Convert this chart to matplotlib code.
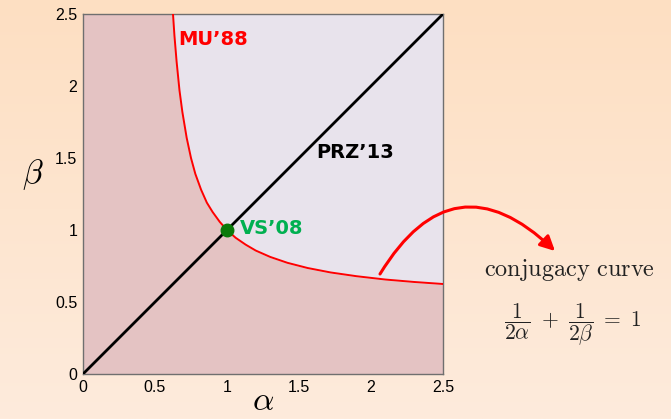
"""Conjugacy curve in the (alpha, beta) plane with the three labelled results."""

import matplotlib
matplotlib.use("Agg")
import matplotlib.pyplot as plt
import numpy as np

plt.rcParams["font.family"] = ["Liberation Sans", "DejaVu Sans"]
plt.rcParams["mathtext.fontset"] = "cm"

# conjugacy curve 1/(2a) + 1/(2b) = 1
curve_alpha = [0.625, 0.635, 0.65, 0.67, 0.69, 0.72, 0.75, 0.78, 0.82, 0.86, 0.9, 0.95,
               1.0, 1.06, 1.13, 1.2, 1.3, 1.42, 1.56, 1.72, 1.9, 2.1, 2.3, 2.5]
curve_beta = [2.5, 2.35, 2.17, 1.97, 1.82, 1.64, 1.5, 1.39, 1.28, 1.19, 1.125, 1.056,
              1.0, 0.946, 0.898, 0.857, 0.813, 0.772, 0.736, 0.705, 0.679, 0.656, 0.639, 0.625]
diag = [0, 2.5]
vs_point = (1.0, 1.0)
ticks = [0, 0.5, 1, 1.5, 2, 2.5]
tick_labels = ["0", "0.5", "1", "1.5", "2", "2.5"]

fig = plt.figure(figsize=(6.71, 4.19), dpi=100)

# peach gradient background
bg = fig.add_axes([0, 0, 1, 1], zorder=-10)
top = np.array([253, 223, 194]) / 255
bot = np.array([254, 235, 220]) / 255
grad = np.linspace(0, 1, 256)[:, None, None] * (bot - top) + top
bg.imshow(np.repeat(grad, 2, axis=1), aspect="auto", extent=(0, 1, 0, 1))
bg.axis("off")

W, H = 671, 419
ax = fig.add_axes([83 / W, (H - 374) / H, 360 / W, 360 / H])
ax.set_xlim(0, 2.5)
ax.set_ylim(0, 2.5)

# regions above / below the curve
ax.fill_between([0, 2.5], 0, 2.5, color="#e4c3c3", zorder=0)
ax.fill_between(curve_alpha, curve_beta, 2.5, color="#e8e3ec", zorder=1)

ax.plot(curve_alpha, curve_beta, color="#ff0000", lw=1.4, zorder=3)
ax.plot(diag, diag, color="black", lw=2.0, zorder=4)
ax.plot(*vs_point, "o", color="#0a7a0a", ms=9, zorder=5)

ax.text(0.66, 2.32, "MU’88", color="#ff0000", fontsize=14, fontweight="bold",
        family="DejaVu Sans", va="center", ha="left")
ax.text(1.62, 1.54, "PRZ’13", color="black", fontsize=14, fontweight="bold",
        family="DejaVu Sans", va="center", ha="left")
ax.text(1.09, 1.01, "VS’08", color="#00b050", fontsize=14, fontweight="bold",
        family="DejaVu Sans", va="center", ha="left")

ax.set_xticks(ticks, tick_labels)
ax.set_yticks(ticks, tick_labels)
ax.tick_params(length=0, labelsize=11.5, pad=4)
for s in ax.spines.values():
    s.set_color("#6f6f6f")
    s.set_linewidth(1.0)

fig.text(263 / W, 1 - 402 / H, r"$\alpha$", fontsize=24, ha="center", va="center")
fig.text(33 / W, 1 - 175 / H, r"$\beta$", fontsize=24, ha="center", va="center")

# curved pointer to the legend text
ax.annotate("", xy=(555, H - 251), xycoords="figure pixels",
            xytext=(380, H - 274), textcoords="figure pixels",
            arrowprops=dict(arrowstyle="-|>", color="#ff0000", lw=2.2,
                            mutation_scale=22, connectionstyle="arc3,rad=-0.62",
                            shrinkA=0, shrinkB=0),
            annotation_clip=False)

fig.text(569 / W, 1 - 270 / H, r"$\mathrm{conjugacy\ curve}$", fontsize=17.5,
         ha="center", va="center", color="#222222")
fig.text(573 / W, 1 - 325 / H, r"$\dfrac{1}{2\alpha}\ +\ \dfrac{1}{2\beta}\ =\ 1$",
         fontsize=15.5, ha="center", va="center", color="#222222")

fig.savefig("out.png", dpi=100)
